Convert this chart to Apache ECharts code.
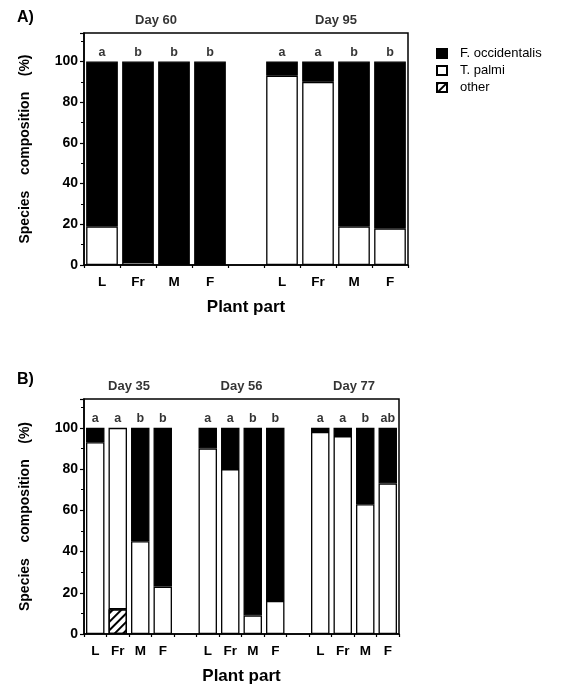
<!DOCTYPE html>
<html>
<head>
<meta charset="utf-8">
<script src="https://cdn.jsdelivr.net/npm/echarts@6/dist/echarts.min.js"></script>
<style>
html,body{margin:0;padding:0;background:#fff;}
#main{width:562px;height:689px;}
</style>
</head>
<body>
<div id="main"></div>
<script>
// 数据 panel A
var aParts = ['L', 'Fr', 'M', 'F', '', 'L', 'Fr', 'M', 'F'];
var aOther = [null, null, null, null, null, null, null, null, null];
var aPalmi = [19, 1.5, null, null, null, 93, 90, 19, 18];
var aOcc = [81, 98.5, 100, 100, null, 7, 10, 81, 82];
var aLetters = ['a', 'b', 'b', 'b', '', 'a', 'a', 'b', 'b'];
var aDays = ['Day 60', 'Day 95'];
var aDayPos = [1.5, 6.5];

// 数据 panel B
var bParts = ['L', 'Fr', 'M', 'F', '', 'L', 'Fr', 'M', 'F', '', 'L', 'Fr', 'M', 'F'];
var bOther = [null, 12, null, null, null, null, null, null, null, null, null, null, null, null];
var bPalmi = [93, 88, 45, 23, null, 90, 80, 9, 16, null, 98, 96, 63, 73];
var bOcc = [7, null, 55, 77, null, 10, 20, 91, 84, null, 2, 4, 37, 27];
var bLetters = ['a', 'a', 'b', 'b', '', 'a', 'a', 'b', 'b', '', 'a', 'a', 'b', 'ab'];
var bDays = ['Day 35', 'Day 56', 'Day 77'];
var bDayPos = [1.5, 6.5, 11.5];

var yTicks = [0, 20, 40, 60, 80, 100];
var letterY = 104.5;
var dayY = 120;
var FONT = 'Liberation Sans';

var myChart = echarts.init(document.getElementById('main'));

function yAxisOf(g) {
    return {
        type: 'value', gridIndex: g, min: 0, max: 114, interval: 20,
        name: 'Species    composition    (%)', nameLocation: 'middle', nameGap: 52,
        nameTextStyle: {fontFamily: FONT, fontWeight: 'bold', fontSize: 14, color: '#000'},
        axisLine: {show: true, onZero: false, lineStyle: {color: '#000', width: 1.5}},
        axisTick: {show: true, length: 4, lineStyle: {color: '#000', width: 1.2}},
        minorTick: {show: true, splitNumber: 2, length: 3, lineStyle: {color: '#000'}},
        splitLine: {show: false},
        axisLabel: {
            fontFamily: FONT, fontWeight: 'bold', fontSize: 14, color: '#000', margin: 6,
            formatter: function (v) { return yTicks.indexOf(v) >= 0 ? String(v) : ''; }
        }
    };
}

function xAxisOf(g, cats) {
    return {
        type: 'category', gridIndex: g, data: cats,
        name: 'Plant part', nameLocation: 'middle', nameGap: 34,
        nameTextStyle: {fontFamily: FONT, fontWeight: 'bold', fontSize: 17, color: '#000'},
        axisLine: {show: true, onZero: false, lineStyle: {color: '#000', width: 1.5}},
        axisTick: {show: true, length: 3, lineStyle: {color: '#000', width: 1.2}},
        axisLabel: {fontFamily: FONT, fontWeight: 'bold', fontSize: 13.5, color: '#000', margin: 10, interval: 0}
    };
}

// hidden value axis, used to place letters and day titles
function posAxisOf(g, n) {
    return {type: 'value', gridIndex: g, min: -0.5, max: n - 0.5, show: false};
}

function barSeries(name, xi, yi, data, color, gap, extra) {
    var s = {
        name: name, type: 'bar', stack: 'p' + xi, xAxisIndex: xi, yAxisIndex: yi,
        data: data, barCategoryGap: gap,
        itemStyle: {color: color, borderColor: '#000', borderWidth: 1.3},
        emphasis: {disabled: true}
    };
    if (extra) s.itemStyle.decal = extra;
    return s;
}

function textSeries(xi, yi, xs, ys, texts, size) {
    var d = [];
    for (var i = 0; i < texts.length; i++) {
        if (texts[i] === '') continue;
        d.push({value: [xs[i], ys], name: texts[i]});
    }
    return {
        type: 'scatter', xAxisIndex: xi, yAxisIndex: yi, data: d, clip: false,
        symbolSize: 1, itemStyle: {color: 'rgba(0,0,0,0)'}, silent: true,
        label: {
            show: true, position: 'inside', color: '#000',
            fontFamily: FONT, fontWeight: 'bold', fontSize: size,
            formatter: function (p) { return p.name; }
        }
    };
}

var hatch = {symbol: 'rect', symbolSize: 1, dashArrayX: [1, 0], dashArrayY: [1.5, 4], rotation: -Math.PI / 4, color: '#000'};

var idxA = aLetters.map(function (v, i) { return i; });
var idxB = bLetters.map(function (v, i) { return i; });

option = {
    animation: false,
    backgroundColor: '#fff',
    title: [
        {text: 'A)', left: 12, top: 5, textStyle: {fontFamily: FONT, fontWeight: 'bold', fontSize: 16, color: '#000'}},
        {text: 'B)', left: 12, top: 367, textStyle: {fontFamily: FONT, fontWeight: 'bold', fontSize: 16, color: '#000'}}
    ],
    legend: {
        data: ['F. occidentalis', 'T. palmi', 'other'],
        orient: 'vertical', left: 431, top: 42,
        icon: 'rect',
        itemWidth: 10, itemHeight: 9, itemGap: 4,
        selectedMode: false,
        textStyle: {fontFamily: FONT, fontSize: 13, color: '#000', padding: [0, 0, 0, 8]}
    },
    grid: [
        {left: 84, top: 33, width: 324, height: 232, show: true, borderColor: '#000', borderWidth: 1.5},
        {left: 84, top: 399, width: 315, height: 235, show: true, borderColor: '#000', borderWidth: 1.5}
    ],
    xAxis: [xAxisOf(0, aParts), xAxisOf(1, bParts), posAxisOf(0, aParts.length), posAxisOf(1, bParts.length)],
    yAxis: [yAxisOf(0), yAxisOf(1)],
    series: [
        barSeries('other', 0, 0, aOther, '#fff', '12%', hatch),
        barSeries('T. palmi', 0, 0, aPalmi, '#fff', '12%'),
        barSeries('F. occidentalis', 0, 0, aOcc, '#000', '12%'),
        barSeries('other', 1, 1, bOther, '#fff', '18%', hatch),
        barSeries('T. palmi', 1, 1, bPalmi, '#fff', '18%'),
        barSeries('F. occidentalis', 1, 1, bOcc, '#000', '18%'),
        textSeries(2, 0, idxA, letterY, aLetters, 12.5),
        textSeries(3, 1, idxB, letterY, bLetters, 12.5),
        textSeries(2, 0, aDayPos, dayY, aDays, 13),
        textSeries(3, 1, bDayPos, dayY, bDays, 13)
    ]
};
myChart.setOption(option);
</script>
</body>
</html>
